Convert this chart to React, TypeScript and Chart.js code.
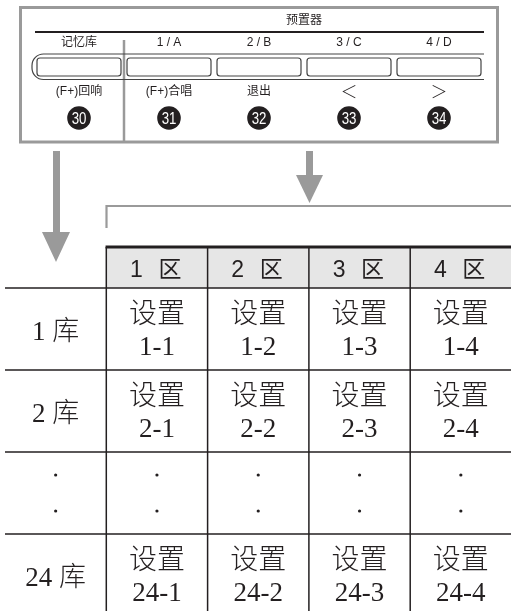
import React, { useEffect, useRef } from 'react';
import { Chart, registerables } from 'chart.js';

Chart.register(...registerables);

// ---------- data (text content) ----------
const panelTitle = '预置器';
const buttonNames = ['记忆库', '1 / A', '2 / B', '3 / C', '4 / D'];
const buttonFunctions = ['(F+)回响', '(F+)合唱', '退出', '＜', '＞'];
const buttonNumbers = ['30', '31', '32', '33', '34'];
const zoneNumbers = ['1', '2', '3', '4'];
const zoneWord = '区';
const bankNumbers = ['1', '2', '', '24']; // '' = ellipsis row
const bankWord = '库';
const cellWord = '设置';

// ---------- layout / style ----------
const W = 511;
const H = 611;
const INK = '#231f20';
const GREY = '#9a9a9a';
const HEADER_BG = '#e6e6e6';
const CJK = '"Noto Sans CJK SC"';
const SANS = `"Liberation Sans", ${CJK}, sans-serif`;
const SERIF = `"Liberation Serif", ${CJK}, serif`;

const L = {
  frame: { x0: 20.5, y0: 7.5, x1: 497.5, y1: 142 },
  dividerX: 124,
  dividerTop: 40,
  titleX: 304,
  titleY: 21,
  ruleY: 32,
  ruleX0: 35,
  ruleX1: 484,
  nameY: 43,
  stripTop: 54,
  stripBottom: 79.5,
  stripX0: 32,
  stripX1: 484,
  btnX0: 79,
  btnStep: 90,
  btnW: 84,
  btnTop: 58,
  btnH: 18,
  funcY: 92,
  circleY: 118,
  circleR: 11.8,
  tableX0: 5,
  colW: 101.3,
  tableTop: 247,
  headerBottom: 288,
  rowH: 82,
};

const colEdge = (i: number) => L.tableX0 + L.colW * i;
const colCenter = (i: number) => L.tableX0 + L.colW * (i + 0.5);
const rowTop = (r: number) => L.headerBottom + L.rowH * r;

const diagramPlugin = {
  id: 'diagram',
  beforeDatasetsDraw(chart: any) {
    const { ctx, scales } = chart;
    const px = (v: number) => scales.x.getPixelForValue(v);
    const py = (v: number) => scales.y.getPixelForValue(v);
    ctx.save();

    ctx.fillStyle = '#ffffff';
    ctx.fillRect(px(0), py(0), px(W) - px(0), py(H) - py(0));

    const line = (pts: number[][], width: number, color: string) => {
      ctx.beginPath();
      pts.forEach(([a, b], k) => (k ? ctx.lineTo(px(a), py(b)) : ctx.moveTo(px(a), py(b))));
      ctx.lineWidth = width;
      ctx.strokeStyle = color;
      ctx.stroke();
    };
    const poly = (pts: number[][], color: string) => {
      ctx.beginPath();
      pts.forEach(([a, b], k) => (k ? ctx.lineTo(px(a), py(b)) : ctx.moveTo(px(a), py(b))));
      ctx.closePath();
      ctx.fillStyle = color;
      ctx.fill();
    };
    const text = (s: string, x: number, y: number, font: string, color = INK, base: CanvasTextBaseline = 'middle') => {
      ctx.font = font;
      ctx.fillStyle = color;
      ctx.textAlign = 'center';
      ctx.textBaseline = base;
      ctx.fillText(s, px(x), py(y));
    };

    // ---- top panel ----
    const f = L.frame;
    ctx.lineWidth = 3;
    ctx.strokeStyle = GREY;
    ctx.strokeRect(px(f.x0), py(f.y0), px(f.x1) - px(f.x0), py(f.y1) - py(f.y0));
    line([[L.dividerX, L.dividerTop], [L.dividerX, f.y1]], 2.5, GREY);

    text(panelTitle, L.titleX, L.titleY, `12px ${SANS}`);
    line([[L.ruleX0, L.ruleY], [L.ruleX1, L.ruleY]], 2, INK);

    buttonNames.forEach((s, i) => text(s, L.btnX0 + L.btnStep * i, L.nameY, `12px ${SANS}`));

    // button strip outline (rounded left end)
    const r = (L.stripBottom - L.stripTop) / 2;
    ctx.beginPath();
    ctx.moveTo(px(L.stripX1), py(L.stripTop));
    ctx.lineTo(px(L.stripX0 + r), py(L.stripTop));
    ctx.arcTo(px(L.stripX0), py(L.stripTop), px(L.stripX0), py(L.stripTop + r), r * 0.9);
    ctx.arcTo(px(L.stripX0), py(L.stripBottom), px(L.stripX0 + r), py(L.stripBottom), r * 0.9);
    ctx.lineTo(px(L.stripX1), py(L.stripBottom));
    ctx.lineWidth = 1.2;
    ctx.strokeStyle = '#444';
    ctx.stroke();

    buttonNames.forEach((_, i) => {
      const cx = L.btnX0 + L.btnStep * i;
      ctx.beginPath();
      (ctx as any).roundRect(px(cx - L.btnW / 2), py(L.btnTop), L.btnW, L.btnH, 3);
      ctx.lineWidth = 1.2;
      ctx.strokeStyle = '#444';
      ctx.stroke();
    });

    buttonFunctions.forEach((s, i) => {
      const isArrow = s === '＜' || s === '＞';
      text(s, L.btnX0 + L.btnStep * i, L.funcY, isArrow ? `300 17px ${CJK}` : `12px ${SANS}`);
    });

    // ---- arrows ----
    poly([[53, 151], [60, 151], [60, 233], [53, 233]], GREY);
    poly([[42, 232], [70, 232], [56, 262]], GREY);
    poly([[306, 151], [313, 151], [313, 176], [306, 176]], GREY);
    poly([[296, 175], [323, 175], [309.5, 203]], GREY);
    line([[106.5, 228], [106.5, 206], [W, 206]], 2.2, GREY);

    // ---- table ----
    ctx.fillStyle = HEADER_BG;
    ctx.fillRect(px(colEdge(1)), py(L.tableTop), px(W) - px(colEdge(1)), py(L.headerBottom) - py(L.tableTop));

    for (let k = 0; k <= bankNumbers.length; k++) {
      if (rowTop(k) < H) line([[colEdge(0), rowTop(k)], [W, rowTop(k)]], 1.5, INK);
    }
    for (let c = 1; c <= zoneNumbers.length; c++) {
      line([[colEdge(c), L.tableTop], [colEdge(c), H]], 1.5, INK);
    }
    line([[colEdge(1) - 0.75, L.tableTop], [W, L.tableTop]], 3, INK);

    const headMid = (L.tableTop + L.headerBottom) / 2 + 1;
    zoneNumbers.forEach((n, c) => {
      const cx = colCenter(c + 1);
      text(n, cx - 20.5, headMid + 8.5, `23px ${SANS}`, INK, 'alphabetic');
      text(zoneWord, cx + 13, headMid + 8.7, `23px ${CJK}`, INK, 'alphabetic');
    });

    bankNumbers.forEach((b, rIdx) => {
      const mid = rowTop(rIdx) + L.rowH / 2;
      if (b === '') {
        for (let c = 0; c <= zoneNumbers.length; c++) {
          [mid - 18, mid + 18].forEach((dy) => {
            ctx.beginPath();
            ctx.arc(px(colCenter(c)), py(dy), 1.6, 0, Math.PI * 2);
            ctx.fillStyle = INK;
            ctx.fill();
          });
        }
        return;
      }
      text(`${b} ${bankWord}`, colCenter(0), mid + 11, `300 27px ${SERIF}`, INK, 'alphabetic');
      zoneNumbers.forEach((z, c) => {
        const cx = colCenter(c + 1);
        text(cellWord, cx, mid - 17 + 10.5, `300 28px ${CJK}`, INK, 'alphabetic');
        text(`${b}-${z}`, cx, mid + 17 + 9, `27px ${SERIF}`, INK, 'alphabetic');
      });
    });

    ctx.restore();
  },
  afterDatasetsDraw(chart: any) {
    const { ctx } = chart;
    const meta = chart.getDatasetMeta(0);
    ctx.save();
    meta.data.forEach((pt: any, i: number) => {
      ctx.save();
      ctx.translate(pt.x, pt.y);
      ctx.scale(0.78, 1);
      ctx.font = `17px ${SANS}`;
      ctx.fillStyle = '#ffffff';
      ctx.textAlign = 'center';
      ctx.textBaseline = 'alphabetic';
      ctx.fillText(buttonNumbers[i], 0, 6.2);
      ctx.restore();
    });
    ctx.restore();
  },
};

export default function App() {
  const ref = useRef<HTMLCanvasElement>(null);
  useEffect(() => {
    const canvas = ref.current;
    if (!canvas) return;
    const chart = new Chart(canvas, {
      type: 'scatter',
      data: {
        datasets: [
          {
            data: buttonNumbers.map((_, i) => ({ x: L.btnX0 + L.btnStep * i, y: L.circleY })),
            pointRadius: L.circleR,
            pointHoverRadius: L.circleR,
            backgroundColor: INK,
            borderWidth: 0,
          },
        ],
      },
      options: {
        responsive: false,
        animation: false,
        events: [],
        layout: { padding: 0, autoPadding: false },
        plugins: {
          legend: { display: false },
          tooltip: { enabled: false },
          title: { display: false },
        },
        scales: {
          x: { type: 'linear', min: 0, max: W, display: false },
          y: { type: 'linear', min: 0, max: H, reverse: true, display: false },
        },
      },
      plugins: [diagramPlugin],
    } as any);
    return () => chart.destroy();
  }, []);
  return (
    <div style={{ position: 'fixed', left: 0, top: 0, width: W, height: H, background: '#fff' }}>
      <canvas ref={ref} width={W} height={H} style={{ display: 'block', width: W, height: H }} />
    </div>
  );
}
